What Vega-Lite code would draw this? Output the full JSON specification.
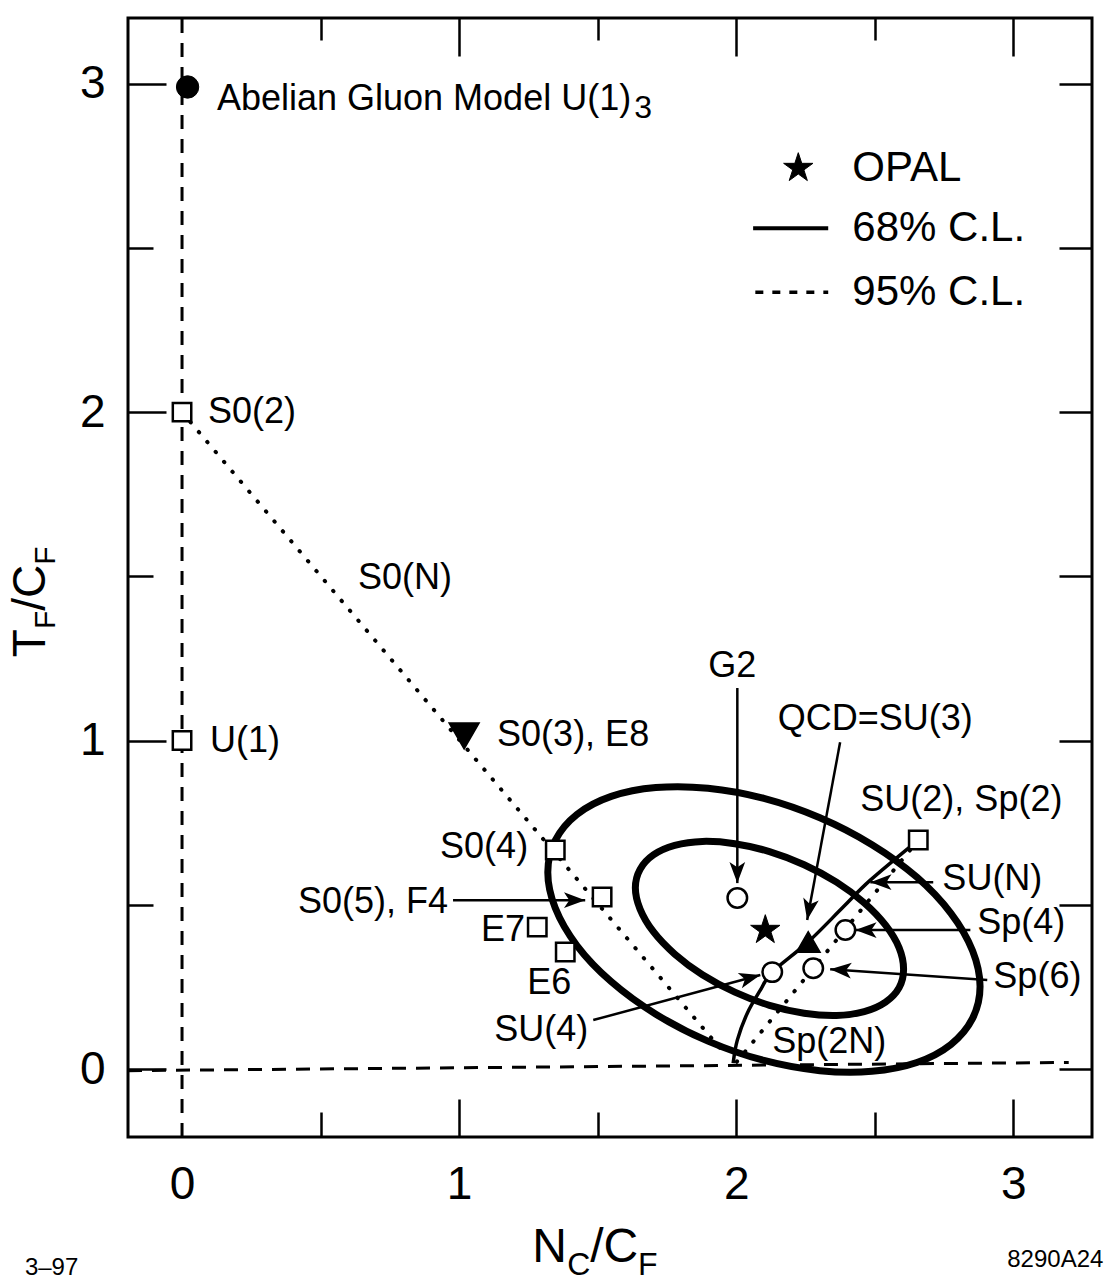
{
  "$schema": "https://vega.github.io/schema/vega-lite/v6.json",
  "width": 964,
  "height": 1119,
  "autosize": {"type": "none"},
  "padding": {"left": 128, "top": 18, "right": 15, "bottom": 147},
  "background": "white",
  "config": {"view": {"stroke": "black", "strokeWidth": 3}, "font": "Liberation Sans"},
  "datasets": {
    "refLines": [
      {"line": "v", "i": 0, "x": 0, "y": -0.207},
      {"line": "v", "i": 1, "x": 0, "y": 3.2},
      {"line": "h", "i": 0, "x": -0.195, "y": -0.005},
      {"line": "h", "i": 1, "x": 3.2, "y": 0.02}
    ],
    "dotted": [
      {"line": "S0(N)", "i": 0, "x": 0, "y": 2.0},
      {"line": "S0(N)", "i": 1, "x": 1.945, "y": 0.06},
      {"line": "Sp(2N)", "i": 0, "x": 2.657, "y": 0.697},
      {"line": "Sp(2N)", "i": 1, "x": 2.0, "y": 0.02}
    ],
    "suN": [
      {"i": 0, "x": 2.657, "y": 0.697},
      {"i": 1, "x": 2.484, "y": 0.575},
      {"i": 2, "x": 2.386, "y": 0.493},
      {"i": 3, "x": 2.26, "y": 0.387},
      {"i": 4, "x": 2.13, "y": 0.295},
      {"i": 5, "x": 2.087, "y": 0.24},
      {"i": 6, "x": 2.04, "y": 0.17},
      {"i": 7, "x": 2.004, "y": 0.088},
      {"i": 8, "x": 1.989, "y": 0.018}
    ],
    "ellipses": [
      {"cl": "95%", "i": 0, "x": 2.88, "y": 0.251},
      {"cl": "95%", "i": 1, "x": 2.853, "y": 0.36},
      {"cl": "95%", "i": 2, "x": 2.775, "y": 0.474},
      {"cl": "95%", "i": 3, "x": 2.652, "y": 0.584},
      {"cl": "95%", "i": 4, "x": 2.49, "y": 0.683},
      {"cl": "95%", "i": 5, "x": 2.302, "y": 0.765},
      {"cl": "95%", "i": 6, "x": 2.1, "y": 0.824},
      {"cl": "95%", "i": 7, "x": 1.898, "y": 0.855},
      {"cl": "95%", "i": 8, "x": 1.71, "y": 0.857},
      {"cl": "95%", "i": 9, "x": 1.549, "y": 0.83},
      {"cl": "95%", "i": 10, "x": 1.425, "y": 0.775},
      {"cl": "95%", "i": 11, "x": 1.347, "y": 0.696},
      {"cl": "95%", "i": 12, "x": 1.32, "y": 0.599},
      {"cl": "95%", "i": 13, "x": 1.347, "y": 0.49},
      {"cl": "95%", "i": 14, "x": 1.425, "y": 0.376},
      {"cl": "95%", "i": 15, "x": 1.549, "y": 0.266},
      {"cl": "95%", "i": 16, "x": 1.71, "y": 0.167},
      {"cl": "95%", "i": 17, "x": 1.898, "y": 0.085},
      {"cl": "95%", "i": 18, "x": 2.1, "y": 0.026},
      {"cl": "95%", "i": 19, "x": 2.302, "y": -0.005},
      {"cl": "95%", "i": 20, "x": 2.49, "y": -0.007},
      {"cl": "95%", "i": 21, "x": 2.652, "y": 0.02},
      {"cl": "95%", "i": 22, "x": 2.775, "y": 0.075},
      {"cl": "95%", "i": 23, "x": 2.853, "y": 0.154},
      {"cl": "68%", "i": 0, "x": 2.604, "y": 0.304},
      {"cl": "68%", "i": 1, "x": 2.588, "y": 0.369},
      {"cl": "68%", "i": 2, "x": 2.539, "y": 0.438},
      {"cl": "68%", "i": 3, "x": 2.462, "y": 0.506},
      {"cl": "68%", "i": 4, "x": 2.362, "y": 0.569},
      {"cl": "68%", "i": 5, "x": 2.245, "y": 0.622},
      {"cl": "68%", "i": 6, "x": 2.12, "y": 0.662},
      {"cl": "68%", "i": 7, "x": 1.995, "y": 0.686},
      {"cl": "68%", "i": 8, "x": 1.878, "y": 0.693},
      {"cl": "68%", "i": 9, "x": 1.778, "y": 0.681},
      {"cl": "68%", "i": 10, "x": 1.701, "y": 0.652},
      {"cl": "68%", "i": 11, "x": 1.653, "y": 0.608},
      {"cl": "68%", "i": 12, "x": 1.636, "y": 0.552},
      {"cl": "68%", "i": 13, "x": 1.653, "y": 0.487},
      {"cl": "68%", "i": 14, "x": 1.701, "y": 0.418},
      {"cl": "68%", "i": 15, "x": 1.778, "y": 0.35},
      {"cl": "68%", "i": 16, "x": 1.878, "y": 0.287},
      {"cl": "68%", "i": 17, "x": 1.995, "y": 0.234},
      {"cl": "68%", "i": 18, "x": 2.12, "y": 0.194},
      {"cl": "68%", "i": 19, "x": 2.245, "y": 0.17},
      {"cl": "68%", "i": 20, "x": 2.362, "y": 0.163},
      {"cl": "68%", "i": 21, "x": 2.462, "y": 0.175},
      {"cl": "68%", "i": 22, "x": 2.539, "y": 0.204},
      {"cl": "68%", "i": 23, "x": 2.588, "y": 0.248}
    ],
    "legendSolid": [{"i": 0, "x": 2.061, "y": 2.56}, {"i": 1, "x": 2.332, "y": 2.56}],
    "legendDotted": [{"i": 0, "x": 2.069, "y": 2.365}, {"i": 1, "x": 2.332, "y": 2.365}],
    "arrows": [
      {"name": "G2", "x": 2.004, "y": 1.16, "x2": 2.004, "y2": 0.566, "angle": 180},
      {"name": "QCD=SU(3)", "x": 2.375, "y": 0.995, "x2": 2.256, "y2": 0.454, "angle": 190.5},
      {"name": "SU(N)", "x": 2.711, "y": 0.569, "x2": 2.484, "y2": 0.569, "angle": 270},
      {"name": "Sp(4)", "x": 2.845, "y": 0.423, "x2": 2.43, "y2": 0.423, "angle": 270},
      {"name": "Sp(6)", "x": 2.906, "y": 0.271, "x2": 2.339, "y2": 0.304, "angle": 274},
      {"name": "SU(4)", "x": 1.484, "y": 0.149, "x2": 2.087, "y2": 0.286, "angle": 75},
      {"name": "S0(5), F4", "x": 0.978, "y": 0.514, "x2": 1.455, "y2": 0.514, "angle": 90}
    ],
    "markers": [
      {"name": "Abelian U(1)3", "kind": "dot", "x": 0.02, "y": 2.99},
      {"name": "S0(2)", "kind": "square", "x": 0, "y": 2.0},
      {"name": "U(1)", "kind": "square", "x": 0, "y": 1.0},
      {"name": "S0(3), E8", "kind": "tri-down", "x": 1.018, "y": 1.014},
      {"name": "S0(4)", "kind": "square", "x": 1.347, "y": 0.667},
      {"name": "S0(5), F4", "kind": "square", "x": 1.516, "y": 0.524},
      {"name": "E7", "kind": "square", "x": 1.282, "y": 0.432},
      {"name": "E6", "kind": "square", "x": 1.383, "y": 0.356},
      {"name": "G2", "kind": "circle", "x": 2.004, "y": 0.521},
      {"name": "SU(2), Sp(2)", "kind": "square", "x": 2.657, "y": 0.697},
      {"name": "SU(3)", "kind": "tri-up", "x": 2.26, "y": 0.387},
      {"name": "SU(4)", "kind": "circle", "x": 2.13, "y": 0.295},
      {"name": "Sp(4)", "kind": "circle", "x": 2.394, "y": 0.423},
      {"name": "Sp(6)", "kind": "circle", "x": 2.278, "y": 0.307},
      {"name": "OPAL", "kind": "star", "x": 2.105, "y": 0.423},
      {"name": "legend OPAL", "kind": "star", "x": 2.224, "y": 2.743}
    ],
    "labelsLeft": [
      {"label": "Abelian Gluon Model U(1)", "x": 0.126, "y": 2.953},
      {"label": "S0(2)", "x": 0.094, "y": 2.0},
      {"label": "U(1)", "x": 0.101, "y": 1.0},
      {"label": "S0(N)", "x": 0.635, "y": 1.495},
      {"label": "S0(3), E8", "x": 1.137, "y": 1.017},
      {"label": "SU(2), Sp(2)", "x": 2.448, "y": 0.819},
      {"label": "SU(N)", "x": 2.744, "y": 0.578},
      {"label": "Sp(4)", "x": 2.87, "y": 0.444},
      {"label": "Sp(6)", "x": 2.928, "y": 0.28},
      {"label": "Sp(2N)", "x": 2.13, "y": 0.082}
    ],
    "labelsRight": [
      {"label": "S0(4)", "x": 1.249, "y": 0.676},
      {"label": "S0(5), F4", "x": 0.96, "y": 0.508},
      {"label": "E7", "x": 1.238, "y": 0.423},
      {"label": "SU(4)", "x": 1.466, "y": 0.119}
    ],
    "labelsCenter": [
      {"label": "E6", "x": 1.325, "y": 0.262},
      {"label": "G2", "x": 1.986, "y": 1.227},
      {"label": "QCD=SU(3)", "x": 2.502, "y": 1.065}
    ],
    "subscript3": [{"label": "3", "x": 1.632, "y": 2.925}],
    "legendText": [
      {"label": "OPAL", "x": 2.419, "y": 2.743},
      {"label": "68% C.L.", "x": 2.419, "y": 2.56},
      {"label": "95% C.L.", "x": 2.419, "y": 2.365}
    ],
    "xTitleMain": [{"label": "N", "x": 1.264, "y": -0.588}, {"label": "/C", "x": 1.473, "y": -0.588}],
    "xTitleSub": [{"label": "C", "x": 1.39, "y": -0.627}, {"label": "F", "x": 1.646, "y": -0.627}],
    "yTitleMain": [{"label": "T", "x": -0.495, "y": 1.254}, {"label": "/C", "x": -0.495, "y": 1.395}],
    "yTitleSub": [{"label": "F", "x": -0.458, "y": 1.34}, {"label": "F", "x": -0.458, "y": 1.535}],
    "footLeft": [{"label": "3–97", "x": -0.567, "y": -0.606}],
    "footRight": [{"label": "8290A24", "x": 3.325, "y": -0.581}]
  },
  "resolve": {"axis": {"x": "independent", "y": "independent"}},
  "encoding": {
    "x": {"field": "x", "type": "quantitative", "scale": {"domain": [-0.195, 3.284], "nice": false, "zero": false}, "axis": null},
    "y": {"field": "y", "type": "quantitative", "scale": {"domain": [-0.207, 3.2], "nice": false, "zero": false}, "axis": null}
  },
  "layer": [
    {
      "data": {"name": "refLines"},
      "mark": {"type": "line", "stroke": "black", "strokeWidth": 3, "strokeDash": [14, 10]},
      "encoding": {
        "x": {
          "field": "x", "type": "quantitative",
          "scale": {"domain": [-0.195, 3.284], "nice": false, "zero": false},
          "axis": {
            "orient": "bottom", "values": [0, 0.5, 1, 1.5, 2, 2.5, 3], "title": null,
            "domain": false, "grid": false,
            "labelExpr": "datum.value % 1 === 0 ? format(datum.value, 'd') : ''",
            "labelFont": "Liberation Sans", "labelFontSize": 46, "labelColor": "black",
            "labelPadding": 63, "labelFlush": false, "labelOverlap": false, "labelBound": false,
            "tickColor": "black", "tickWidth": 2.5,
            "tickSize": {"condition": {"test": "datum.value % 1 === 0", "value": -38}, "value": -25},
            "tickOpacity": {"condition": {"test": "datum.value === 0", "value": 0}, "value": 1}
          }
        },
        "y": {
          "field": "y", "type": "quantitative",
          "scale": {"domain": [-0.207, 3.2], "nice": false, "zero": false},
          "axis": {
            "orient": "left", "values": [0, 0.5, 1, 1.5, 2, 2.5, 3], "title": null,
            "domain": false, "grid": false,
            "labelExpr": "datum.value % 1 === 0 ? format(datum.value, 'd') : ''",
            "labelFont": "Liberation Sans", "labelFontSize": 46, "labelColor": "black",
            "labelPadding": 61, "labelFlush": false, "labelOverlap": false, "labelBound": false,
            "tickColor": "black", "tickWidth": 2.5,
            "tickSize": {"condition": {"test": "datum.value % 1 === 0", "value": -38}, "value": -25}
          }
        },
        "detail": {"field": "line"},
        "order": {"field": "i"}
      }
    },
    {
      "data": {"name": "dotted"},
      "mark": {"type": "line", "stroke": "black", "strokeWidth": 4, "strokeDash": [0.5, 12.5], "strokeCap": "round"},
      "encoding": {
        "x": {
          "field": "x", "type": "quantitative",
          "scale": {"domain": [-0.195, 3.284], "nice": false, "zero": false},
          "axis": {
            "orient": "top", "values": [0.5, 1, 1.5, 2, 2.5, 3], "title": null, "labels": false,
            "domain": false, "grid": false, "tickColor": "black", "tickWidth": 2.5,
            "tickSize": {"condition": {"test": "datum.value % 1 === 0", "value": -38}, "value": -22}
          }
        },
        "y": {
          "field": "y", "type": "quantitative",
          "scale": {"domain": [-0.207, 3.2], "nice": false, "zero": false},
          "axis": {
            "orient": "right", "values": [0, 0.5, 1, 1.5, 2, 2.5, 3], "title": null, "labels": false,
            "domain": false, "grid": false, "tickColor": "black", "tickWidth": 2.5, "tickSize": -33
          }
        },
        "detail": {"field": "line"},
        "order": {"field": "i"}
      }
    },
    {
      "data": {"name": "suN"},
      "mark": {"type": "line", "stroke": "black", "strokeWidth": 3.5, "interpolate": "cardinal"},
      "encoding": {"order": {"field": "i"}}
    },
    {
      "data": {"name": "ellipses"},
      "mark": {"type": "line", "stroke": "black", "strokeWidth": 7, "interpolate": "cardinal-closed"},
      "encoding": {"detail": {"field": "cl"}, "order": {"field": "i"}}
    },
    {
      "data": {"name": "legendSolid"},
      "mark": {"type": "line", "stroke": "black", "strokeWidth": 4},
      "encoding": {"order": {"field": "i"}}
    },
    {
      "data": {"name": "legendDotted"},
      "mark": {"type": "line", "stroke": "black", "strokeWidth": 3.5, "strokeDash": [8, 9]},
      "encoding": {"order": {"field": "i"}}
    },
    {
      "data": {"name": "arrows"},
      "mark": {"type": "rule", "stroke": "black", "strokeWidth": 2.5},
      "encoding": {"x2": {"field": "x2"}, "y2": {"field": "y2"}}
    },
    {
      "data": {"name": "arrows"},
      "mark": {"type": "point", "shape": "M0,0L0.37,1L0,0.75L-0.37,1Z", "filled": true, "fill": "black", "stroke": null, "opacity": 1, "size": 1800},
      "encoding": {
        "x": {"field": "x2", "type": "quantitative", "scale": {"domain": [-0.195, 3.284], "nice": false, "zero": false}, "axis": null},
        "y": {"field": "y2", "type": "quantitative", "scale": {"domain": [-0.207, 3.2], "nice": false, "zero": false}, "axis": null},
        "angle": {"field": "angle", "type": "quantitative", "scale": null}
      }
    },
    {
      "data": {"name": "markers"},
      "transform": [{"filter": "datum.kind === 'square'"}],
      "mark": {"type": "point", "shape": "square", "filled": true, "fill": "white", "stroke": "black", "strokeWidth": 2.5, "opacity": 1, "size": 340}
    },
    {
      "data": {"name": "markers"},
      "transform": [{"filter": "datum.kind === 'circle'"}],
      "mark": {"type": "point", "shape": "circle", "filled": true, "fill": "white", "stroke": "black", "strokeWidth": 2.5, "opacity": 1, "size": 380}
    },
    {
      "data": {"name": "markers"},
      "transform": [{"filter": "datum.kind === 'dot'"}],
      "mark": {"type": "point", "shape": "circle", "filled": true, "fill": "black", "stroke": "black", "strokeWidth": 1, "opacity": 1, "size": 500}
    },
    {
      "data": {"name": "markers"},
      "transform": [{"filter": "datum.kind === 'tri-down'"}],
      "mark": {"type": "point", "shape": "triangle-down", "filled": true, "fill": "black", "stroke": "black", "strokeWidth": 1.5, "opacity": 1, "size": 900}
    },
    {
      "data": {"name": "markers"},
      "transform": [{"filter": "datum.kind === 'tri-up'"}],
      "mark": {"type": "point", "shape": "triangle-up", "filled": true, "fill": "black", "stroke": "black", "strokeWidth": 1.5, "opacity": 1, "size": 560}
    },
    {
      "data": {"name": "markers"},
      "transform": [{"filter": "datum.kind === 'star'"}],
      "mark": {"type": "point", "shape": "M0,-1L0.225,-0.309L0.951,-0.309L0.363,0.118L0.588,0.809L0,0.382L-0.588,0.809L-0.363,0.118L-0.951,-0.309L-0.225,-0.309Z", "filled": true, "fill": "black", "stroke": "black", "strokeWidth": 1, "opacity": 1, "size": 950}
    },
    {
      "data": {"name": "labelsLeft"},
      "mark": {"type": "text", "align": "left", "baseline": "middle", "fontSize": 36, "font": "Liberation Sans", "color": "black"},
      "encoding": {"text": {"field": "label"}}
    },
    {
      "data": {"name": "labelsRight"},
      "mark": {"type": "text", "align": "right", "baseline": "middle", "fontSize": 36, "font": "Liberation Sans", "color": "black"},
      "encoding": {"text": {"field": "label"}}
    },
    {
      "data": {"name": "labelsCenter"},
      "mark": {"type": "text", "align": "center", "baseline": "middle", "fontSize": 36, "font": "Liberation Sans", "color": "black"},
      "encoding": {"text": {"field": "label"}}
    },
    {
      "data": {"name": "subscript3"},
      "mark": {"type": "text", "align": "left", "baseline": "middle", "fontSize": 32, "font": "Liberation Sans", "color": "black"},
      "encoding": {"text": {"field": "label"}}
    },
    {
      "data": {"name": "legendText"},
      "mark": {"type": "text", "align": "left", "baseline": "middle", "fontSize": 42, "font": "Liberation Sans", "color": "black"},
      "encoding": {"text": {"field": "label"}}
    },
    {
      "data": {"name": "xTitleMain"},
      "mark": {"type": "text", "align": "left", "baseline": "alphabetic", "fontSize": 48, "font": "Liberation Sans", "color": "black"},
      "encoding": {"text": {"field": "label"}}
    },
    {
      "data": {"name": "xTitleSub"},
      "mark": {"type": "text", "align": "left", "baseline": "alphabetic", "fontSize": 32, "font": "Liberation Sans", "color": "black"},
      "encoding": {"text": {"field": "label"}}
    },
    {
      "data": {"name": "yTitleMain"},
      "mark": {"type": "text", "align": "left", "baseline": "alphabetic", "angle": 270, "fontSize": 46, "font": "Liberation Sans", "color": "black"},
      "encoding": {"text": {"field": "label"}}
    },
    {
      "data": {"name": "yTitleSub"},
      "mark": {"type": "text", "align": "left", "baseline": "alphabetic", "angle": 270, "fontSize": 30, "font": "Liberation Sans", "color": "black"},
      "encoding": {"text": {"field": "label"}}
    },
    {
      "data": {"name": "footLeft"},
      "mark": {"type": "text", "align": "left", "baseline": "middle", "fontSize": 24, "font": "Liberation Sans", "color": "black"},
      "encoding": {"text": {"field": "label"}}
    },
    {
      "data": {"name": "footRight"},
      "mark": {"type": "text", "align": "right", "baseline": "middle", "fontSize": 24, "font": "Liberation Sans", "color": "black"},
      "encoding": {"text": {"field": "label"}}
    }
  ]
}
